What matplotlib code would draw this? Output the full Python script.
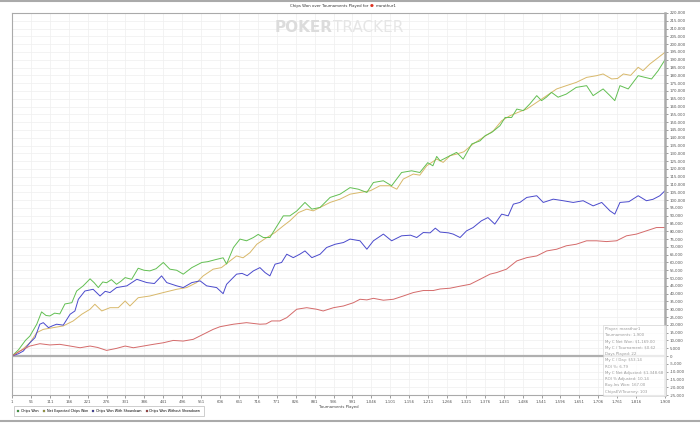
import matplotlib
matplotlib.use('Agg')
from matplotlib import pyplot as plt
from matplotlib.lines import Line2D
from matplotlib.ticker import FuncFormatter

# 数据 (锦标赛编号, 筹码 单位: 千)
won_t = [1, 20, 40, 53, 73, 87, 100, 111, 125, 140, 155, 175, 189, 208, 228, 240, 252, 265, 276, 290,
         305, 318, 330, 349, 368, 385, 402, 420, 441, 460, 480, 499, 524, 553, 570, 596, 615, 625, 645, 664,
         683, 703, 717, 732, 751, 766, 790, 809, 829, 853, 873, 897, 926, 955, 984, 1008, 1033, 1052, 1081, 1105,
         1134, 1163, 1187, 1210, 1225, 1236, 1246, 1275, 1294, 1313, 1338, 1362, 1377, 1396, 1420, 1435, 1454, 1469, 1488, 1507,
         1527, 1541, 1555, 1570, 1589, 1613, 1642, 1672, 1691, 1720, 1740, 1754, 1769, 1793, 1822, 1842, 1861, 1880, 1900]
won_v = [0, 4, 10, 12.8, 20.4, 28.3, 26, 25.7, 27.5, 27, 33.4, 34.2, 41.7, 45, 49.5, 47, 43.9, 47.5, 47, 49,
         46, 48, 50.3, 49.2, 56.3, 55, 54.6, 56, 60, 55.7, 55, 52.5, 56.7, 60, 60.5, 62, 63, 59, 69.6, 75,
         73.9, 76, 78, 76, 76, 81.4, 89.9, 89.9, 93, 98.5, 94.2, 95.3, 101.7, 103.8, 108, 107, 104.9, 111.3, 112.4, 109.2,
         117.7, 118.8, 117.7, 124, 122, 128, 125.2, 128.5, 130.6, 126.3, 136, 138, 141.3, 143.4, 147.7, 153, 153, 158.4, 157.4, 161.7,
         167, 163.8, 166, 169.1, 166, 168, 172.3, 173.4, 167, 171.3, 167, 163.8, 173.4, 171.3, 179.8, 178.7, 177.7, 183, 190]

ev_t = [1, 30, 53, 73, 92, 121, 150, 179, 204, 228, 242, 262, 286, 310, 330, 344, 368, 402, 441, 480,
        509, 538, 557, 586, 610, 635, 654, 673, 693, 713, 742, 766, 790, 809, 834, 858, 877, 897, 926, 955,
        984, 1013, 1043, 1071, 1100, 1120, 1139, 1168, 1187, 1207, 1236, 1255, 1275, 1294, 1315, 1342, 1371, 1401, 1425, 1449,
        1473, 1498, 1527, 1556, 1585, 1613, 1642, 1672, 1701, 1720, 1745, 1762, 1779, 1800, 1822, 1836, 1856, 1875, 1900]
ev_v = [0, 4, 8.5, 15, 17.1, 18.2, 19.3, 22.5, 26.8, 30, 33.2, 28.9, 31, 31, 35.3, 32.1, 37.4, 38.5, 40.7, 42.8,
        43.9, 47.1, 51.4, 55.7, 56.7, 61, 64.2, 63, 66.3, 71.7, 76, 79.2, 83.5, 86.7, 92, 94.2, 93.1, 95.3, 98.5, 100.6,
        103.8, 104.9, 106, 109.2, 109.2, 107, 113.5, 116.7, 116, 122, 126.3, 124.2, 128.5, 129.5, 131, 136, 140.2, 144.5, 150.9, 154.1,
        156.3, 158.4, 162.7, 167, 171.3, 173.4, 175.5, 178.7, 179.8, 180.9, 177.7, 178, 180.9, 180, 185.2, 183, 187.3, 190.5, 194.8]

sd_t = [1, 20, 34, 53, 68, 82, 92, 107, 120, 131, 150, 170, 184, 194, 213, 237, 257, 272, 286, 305,
        335, 364, 393, 415, 436, 451, 480, 499, 524, 548, 567, 596, 615, 625, 654, 670, 685, 703, 722, 737,
        751, 766, 785, 800, 819, 838, 853, 873, 897, 916, 941, 965, 984, 1013, 1033, 1052, 1081, 1105, 1134, 1160,
        1178, 1197, 1217, 1232, 1246, 1270, 1284, 1304, 1323, 1342, 1366, 1385, 1405, 1425, 1444, 1459, 1478, 1498, 1527, 1546,
        1575, 1604, 1633, 1662, 1691, 1716, 1740, 1754, 1769, 1795, 1822, 1846, 1865, 1885, 1900]
sd_v = [0, 1.5, 3.2, 8.5, 11.8, 20.4, 21.4, 18.2, 19.5, 20.4, 19.8, 26.8, 28.9, 36.4, 41.7, 42.8, 38.5, 41.5, 40.7, 43.9,
        45, 49.2, 47.1, 46.5, 51.4, 47.1, 45, 43.9, 47.1, 48.2, 45, 43.9, 40, 46, 52.5, 53, 51.5, 54.6, 56.7, 53.5,
        51.4, 58.9, 60, 65.3, 63.1, 65.3, 67.4, 63.1, 65.3, 69.6, 71.7, 72.8, 75, 73.9, 68.5, 73.9, 78.2, 73.9, 77.1, 77.5,
        76, 79.2, 79, 82, 79.5, 79, 78.2, 76, 80.3, 82.4, 86.7, 88.8, 84.6, 91, 89.9, 97.4, 98.5, 101.7, 102.8, 98.5,
        100.6, 99.6, 98.5, 99.6, 96.3, 98.5, 93.1, 91, 98.5, 99, 102.8, 99.6, 100.5, 102.8, 106]

nsd_t = [1, 24, 53, 82, 111, 140, 170, 199, 228, 250, 276, 305, 330, 354, 383, 412, 441, 470, 499, 528,
         557, 586, 606, 635, 645, 683, 722, 740, 756, 780, 800, 829, 858, 887, 906, 936, 965, 994, 1013, 1033,
         1052, 1081, 1110, 1139, 1168, 1197, 1226, 1246, 1275, 1304, 1333, 1362, 1391, 1410, 1439, 1469, 1498, 1527, 1556, 1585,
         1613, 1642, 1672, 1701, 1730, 1759, 1788, 1817, 1846, 1875, 1900]
nsd_v = [0, 3.2, 6.4, 7.9, 7.1, 7.5, 6.4, 5.3, 6.4, 5.5, 3.6, 4.9, 6.4, 5.3, 6.4, 7.5, 8.5, 10, 9.6, 10.7,
         13.9, 17.1, 18.8, 20, 20.4, 21.4, 20.4, 20.6, 22.5, 22.5, 24.6, 30, 31, 30, 28.9, 31, 32.1, 34.2, 36.4, 36,
         37, 35.8, 36.4, 38.5, 40.7, 42, 42, 43, 43.5, 44.8, 46, 49.2, 52.5, 53.5, 55.7, 61, 63.1, 64.2, 67.4, 68.5,
         70.7, 71.7, 73.9, 73.9, 73.4, 73.9, 77.1, 78.2, 80.3, 82.4, 82.4]

x_ticks = list(range(1, 1817, 55)) + [1900]
info_lines = ['Player: marathur1', 'Tournaments: 1,900', 'My C Net Won: $1,169.00',
              'My C / Tournament: $0.62', 'Days Played: 22', 'My C / Day: $53.14', 'ROI %: 6.79',
              'My C Net Adjusted: $1,348.68', 'ROI % Adjusted: 10.14', 'Buy-Ins Won: 167.00',
              'ChipsEV/Tourney: 103']

W, H = 700, 423
fig = plt.figure(figsize=(7, 4.23), dpi=100)
ax = fig.add_axes([12/W, 1-395/H, (665-12)/W, (395-13)/H])

k = lambda v: [x*1000 for x in v]
ax.plot(ev_t, k(ev_v), c='#d8b86a', lw=0.7)
ax.plot(won_t, k(won_v), c='#62bf52', lw=0.7)
ax.plot(sd_t, k(sd_v), c='#4a4acc', lw=0.7)
ax.plot(nsd_t, k(nsd_v), c='#d46a6a', lw=0.7)
ax.axhline(0, color='#b0b0b0', lw=1.6, zorder=1)

ax.set_xlim(1, 1900)
ax.set_ylim(-25000, 220000)
ax.set_xticks(x_ticks)
ax.set_xticklabels([f'{t:,}' for t in x_ticks])
ax.set_yticks(range(-25000, 220001, 5000))
ax.yaxis.set_major_formatter(FuncFormatter(lambda v, p: f'{int(v):,}'))
ax.yaxis.tick_right()
ax.tick_params(axis='both', labelsize=2.8, colors='#555555', length=2, width=0.4, pad=1.5)
ax.grid(True, color='#efefef', lw=0.5)
ax.set_axisbelow(True)
for s in ['left', 'bottom', 'top']:
    ax.spines[s].set_color('#aaaaaa')
    ax.spines[s].set_linewidth(0.8)
ax.spines['right'].set_color('#aaaaaa')
ax.spines['right'].set_linewidth(1.8)
ax.set_xlabel('Tournaments Played', fontsize=2.8, color='#444444', labelpad=1)

# 标题与水印
fig.text(368/W, 1-6/H, 'Chips Won over Tournaments Played for', fontsize=2.8,
         ha='right', va='center', color='#333333')
fig.text(372/W, 1-6/H, '●', fontsize=3.2, color='#dd3322', ha='center', va='center')
fig.text(375.5/W, 1-6/H, 'marathur1', fontsize=2.8, ha='left', va='center', color='#333333')
fig.text(333/W, 1-28/H, 'POKER', fontsize=11, fontweight='bold', color='#dcdcdc', ha='right', va='center')
fig.text(333/W, 1-28/H, 'TRACKER', fontsize=11, color='#e6e6e6', ha='left', va='center')

# 信息框
ax.text(0.908, 0.178, '\n'.join(info_lines), transform=ax.transAxes, fontsize=2.8,
        color='#999999', va='top', ha='left', linespacing=1.75,
        bbox=dict(boxstyle='square,pad=0.6', fc='white', ec='#cccccc', lw=0.5, alpha=0.75))

# 图例
handles = [Line2D([], [], ls='', marker='s', ms=2, mec='#777777', mew=0.2, mfc=c)
           for c in ['#339933', '#999933', '#333399', '#993333']]
labels = ['Chips Won', 'Net Expected Chips Won', 'Chips Won With Showdown', 'Chips Won Without Showdown']
leg = fig.legend(handles, labels, loc='lower left', bbox_to_anchor=(12/W, 1-418/H), ncol=4,
                 fontsize=2.4, frameon=True, fancybox=False, handlelength=0.8, handletextpad=0.4,
                 columnspacing=1.2, borderpad=1.0)
leg.get_frame().set_edgecolor('#aaaaaa')
leg.get_frame().set_linewidth(0.5)

# 图框线
fig.add_artist(Line2D([0, 1], [1-1/H, 1-1/H], color='#aaaaaa', lw=1.5))
fig.add_artist(Line2D([0, 1], [1-421/H, 1-421/H], color='#aaaaaa', lw=1.5))

fig.savefig('out.png', dpi=100)
